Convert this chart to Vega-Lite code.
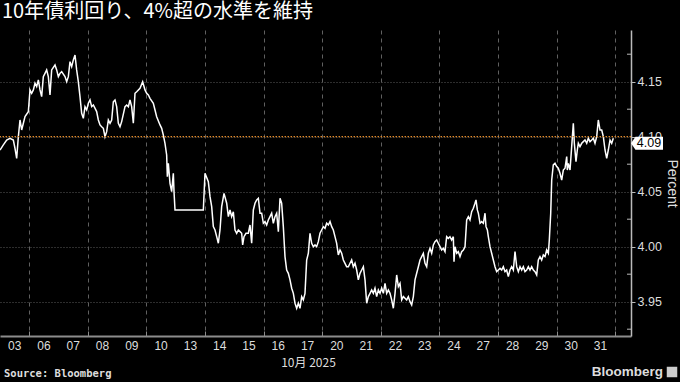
{
  "$schema": "https://vega.github.io/schema/vega-lite/v6.json",
  "width": 631,
  "height": 306,
  "autosize": {"type": "none"},
  "padding": {"left": 0, "top": 30, "right": 49, "bottom": 46},
  "background": "#000000",
  "title": {
    "text": "10年債利回り、4%超の水準を維持",
    "anchor": "start",
    "frame": "group",
    "font": "Noto Sans CJK JP",
    "fontSize": 20,
    "fontWeight": "normal",
    "color": "#ffffff",
    "offset": 8,
    "dx": 2
  },
  "datasets": {
    "yields": [
      {"t":0,"v":4.0879},{"t":0.114,"v":4.0925},{"t":0.228,"v":4.097},{"t":0.341,"v":4.0986},{"t":0.455,"v":4.097},{"t":0.512,"v":4.0894},{"t":0.569,"v":4.0803},{"t":0.626,"v":4.1},{"t":0.683,"v":4.1152},{"t":0.74,"v":4.1061},{"t":0.797,"v":4.1122},{"t":0.854,"v":4.1182},{"t":0.967,"v":4.1227},
      {"t":1.024,"v":4.1425},{"t":1.081,"v":4.1395},{"t":1.138,"v":4.1425},{"t":1.195,"v":4.1486},{"t":1.252,"v":4.1455},{"t":1.309,"v":4.1516},{"t":1.366,"v":4.1425},{"t":1.422,"v":4.1364},{"t":1.479,"v":4.1546},{"t":1.536,"v":4.1576},{"t":1.593,"v":4.1607},{"t":1.65,"v":4.1546},{"t":1.707,"v":4.1379},{"t":1.764,"v":4.1607},{"t":1.878,"v":4.1652},{"t":1.935,"v":4.1607},{"t":1.992,"v":4.1546},
      {"t":2.048,"v":4.1576},{"t":2.105,"v":4.1591},{"t":2.219,"v":4.1546},{"t":2.276,"v":4.15},{"t":2.333,"v":4.1546},{"t":2.39,"v":4.1682},{"t":2.447,"v":4.1637},{"t":2.504,"v":4.1698},{"t":2.561,"v":4.1743},{"t":2.617,"v":4.1607},{"t":2.674,"v":4.15},{"t":2.731,"v":4.1364},{"t":2.788,"v":4.1213},{"t":2.845,"v":4.1167},{"t":2.902,"v":4.1273},{"t":2.959,"v":4.1243},
      {"t":3.016,"v":4.1304},{"t":3.073,"v":4.1334},{"t":3.13,"v":4.1273},{"t":3.187,"v":4.1288},{"t":3.3,"v":4.1228},{"t":3.357,"v":4.1152},{"t":3.414,"v":4.1107},{"t":3.471,"v":4.1091},{"t":3.528,"v":4.1076},{"t":3.585,"v":4.1},{"t":3.642,"v":4.1046},{"t":3.699,"v":4.1152},{"t":3.756,"v":4.1122},{"t":3.813,"v":4.1152},{"t":3.869,"v":4.1318},{"t":3.926,"v":4.1334},{"t":3.983,"v":4.1273},
      {"t":4.04,"v":4.1122},{"t":4.097,"v":4.1091},{"t":4.154,"v":4.1137},{"t":4.268,"v":4.1273},{"t":4.325,"v":4.1288},{"t":4.382,"v":4.1273},{"t":4.438,"v":4.1334},{"t":4.495,"v":4.1273},{"t":4.552,"v":4.1122},{"t":4.609,"v":4.1395},{"t":4.666,"v":4.1409},{"t":4.78,"v":4.144},{"t":4.871,"v":4.15},{"t":4.95,"v":4.1425},
      {"t":5.007,"v":4.1395},{"t":5.064,"v":4.1379},{"t":5.121,"v":4.1349},{"t":5.235,"v":4.1304},{"t":5.292,"v":4.1243},{"t":5.349,"v":4.1182},{"t":5.463,"v":4.1107},{"t":5.52,"v":4.1076},{"t":5.577,"v":4.1015},{"t":5.633,"v":4.094},{"t":5.69,"v":4.0834},{"t":5.713,"v":4.0637},{"t":5.747,"v":4.0758},{"t":5.804,"v":4.0576},{"t":5.861,"v":4.05},{"t":5.918,"v":4.0667},{"t":5.941,"v":4.05},{"t":5.975,"v":4.0334},
      {"t":6.942,"v":4.0334},{"t":6.999,"v":4.0667},{"t":7.112,"v":4.0591},{"t":7.17,"v":4.0455},{"t":7.227,"v":4.0364},{"t":7.283,"v":4.0182},{"t":7.34,"v":4.0152},{"t":7.398,"v":4.0091},{"t":7.454,"v":4.0031},{"t":7.511,"v":4.0152},{"t":7.568,"v":4.0364},{"t":7.648,"v":4.0485},{"t":7.739,"v":4.0395},{"t":7.796,"v":4.0273},{"t":7.853,"v":4.0334},{"t":7.909,"v":4.0273},{"t":7.966,"v":4.0318},
      {"t":8.023,"v":4.0152},{"t":8.08,"v":4.0122},{"t":8.137,"v":4.0152},{"t":8.194,"v":4.0137},{"t":8.251,"v":4.0122},{"t":8.285,"v":4.0016},{"t":8.33,"v":4.0091},{"t":8.399,"v":4.0122},{"t":8.478,"v":4.0122},{"t":8.535,"v":4.0197},{"t":8.592,"v":4.0031},{"t":8.649,"v":4.0334},{"t":8.706,"v":4.0395},{"t":8.763,"v":4.0425},{"t":8.82,"v":4.044},{"t":8.877,"v":4.0304},{"t":8.934,"v":4.0304},{"t":8.991,"v":4.0213},
      {"t":9.047,"v":4.0228},{"t":9.104,"v":4.0197},{"t":9.161,"v":4.0243},{"t":9.218,"v":4.0273},{"t":9.275,"v":4.0304},{"t":9.332,"v":4.0213},{"t":9.389,"v":4.0273},{"t":9.446,"v":4.0304},{"t":9.503,"v":4.0137},{"t":9.56,"v":4.044},{"t":9.616,"v":4.0395},{"t":9.673,"v":4.0182},{"t":9.73,"v":3.991},{"t":9.787,"v":3.9788},{"t":9.844,"v":3.9758},{"t":9.901,"v":3.9698},{"t":9.958,"v":3.9622},
      {"t":10.015,"v":3.9576},{"t":10.072,"v":3.9486},{"t":10.129,"v":3.944},{"t":10.186,"v":3.9486},{"t":10.242,"v":3.944},{"t":10.299,"v":3.9546},{"t":10.356,"v":3.9516},{"t":10.413,"v":3.9576},{"t":10.47,"v":3.9879},{"t":10.527,"v":3.994},{"t":10.584,"v":4.0122},{"t":10.641,"v":4.0031},{"t":10.698,"v":4.0},{"t":10.755,"v":4.0016},{"t":10.811,"v":4.0},{"t":10.868,"v":4.0046},{"t":10.925,"v":4.0122},{"t":10.982,"v":4.0152},
      {"t":11.039,"v":4.0182},{"t":11.096,"v":4.0167},{"t":11.153,"v":4.0213},{"t":11.21,"v":4.0197},{"t":11.267,"v":4.0228},{"t":11.324,"v":4.0182},{"t":11.38,"v":4.0152},{"t":11.437,"v":4.0091},{"t":11.494,"v":4.0031},{"t":11.551,"v":3.9925},{"t":11.608,"v":3.997},{"t":11.665,"v":3.994},{"t":11.722,"v":3.9879},{"t":11.779,"v":3.9849},{"t":11.836,"v":3.9818},{"t":11.893,"v":3.9818},{"t":11.95,"v":3.9849},
      {"t":12.006,"v":3.9879},{"t":12.063,"v":3.9818},{"t":12.12,"v":3.9849},{"t":12.177,"v":3.9788},{"t":12.234,"v":3.9698},{"t":12.291,"v":3.9758},{"t":12.348,"v":3.9788},{"t":12.405,"v":3.9818},{"t":12.462,"v":3.9698},{"t":12.519,"v":3.9486},{"t":12.576,"v":3.9546},{"t":12.633,"v":3.9576},{"t":12.689,"v":3.9607},{"t":12.746,"v":3.9576},{"t":12.803,"v":3.9622},{"t":12.86,"v":3.9546},{"t":12.917,"v":3.9607},{"t":12.974,"v":3.9576},
      {"t":13.031,"v":3.9622},{"t":13.088,"v":3.9576},{"t":13.145,"v":3.9667},{"t":13.202,"v":3.9576},{"t":13.259,"v":3.9607},{"t":13.315,"v":3.9576},{"t":13.372,"v":3.9516},{"t":13.429,"v":3.944},{"t":13.486,"v":3.9576},{"t":13.543,"v":3.9743},{"t":13.6,"v":3.9637},{"t":13.657,"v":3.9667},{"t":13.714,"v":3.9516},{"t":13.771,"v":3.9546},{"t":13.827,"v":3.9531},{"t":13.884,"v":3.9516},{"t":13.941,"v":3.9546},{"t":13.998,"v":3.95},
      {"t":14.055,"v":3.947},{"t":14.112,"v":3.9546},{"t":14.169,"v":3.9698},{"t":14.226,"v":3.9758},{"t":14.283,"v":3.9818},{"t":14.34,"v":3.9879},{"t":14.397,"v":3.991},{"t":14.453,"v":3.994},{"t":14.51,"v":3.9849},{"t":14.567,"v":3.9818},{"t":14.624,"v":3.994},{"t":14.681,"v":3.9985},{"t":14.738,"v":3.994},{"t":14.795,"v":4.0016},{"t":14.851,"v":4.0046},{"t":14.909,"v":4.0061},{"t":14.964,"v":4.0031},
      {"t":15.022,"v":4.0},{"t":15.079,"v":3.997},{"t":15.136,"v":3.9985},{"t":15.193,"v":3.9955},{"t":15.25,"v":4.0091},{"t":15.306,"v":4.0076},{"t":15.363,"v":4.0091},{"t":15.42,"v":4.0061},{"t":15.477,"v":4.0091},{"t":15.5,"v":3.9864},{"t":15.534,"v":4.0},{"t":15.591,"v":3.994},{"t":15.648,"v":3.9955},{"t":15.705,"v":3.991},{"t":15.762,"v":3.9955},{"t":15.819,"v":3.997},{"t":15.876,"v":4.0},{"t":15.933,"v":4.0243},{"t":15.99,"v":4.0273},
      {"t":16.046,"v":4.0243},{"t":16.103,"v":4.0318},{"t":16.16,"v":4.0349},{"t":16.217,"v":4.0395},{"t":16.251,"v":4.0425},{"t":16.297,"v":4.0334},{"t":16.331,"v":4.0304},{"t":16.388,"v":4.0213},{"t":16.445,"v":4.0228},{"t":16.502,"v":4.0213},{"t":16.559,"v":4.0304},{"t":16.593,"v":4.0182},{"t":16.639,"v":4.0152},{"t":16.672,"v":4.0091},{"t":16.729,"v":4.0},{"t":16.786,"v":3.994},{"t":16.843,"v":3.9879},{"t":16.9,"v":3.9818},{"t":16.957,"v":3.9773},
      {"t":17.014,"v":3.9788},{"t":17.071,"v":3.9803},{"t":17.128,"v":3.9788},{"t":17.184,"v":3.9818},{"t":17.241,"v":3.9773},{"t":17.298,"v":3.9788},{"t":17.355,"v":3.9728},{"t":17.412,"v":3.9788},{"t":17.469,"v":3.9818},{"t":17.526,"v":3.9788},{"t":17.583,"v":3.9955},{"t":17.64,"v":3.9818},{"t":17.697,"v":3.9773},{"t":17.754,"v":3.9818},{"t":17.811,"v":3.9788},{"t":17.867,"v":3.9818},{"t":17.924,"v":3.9773},{"t":17.981,"v":3.9788},
      {"t":18.038,"v":3.9818},{"t":18.095,"v":3.9788},{"t":18.152,"v":3.9818},{"t":18.209,"v":3.9788},{"t":18.266,"v":3.9773},{"t":18.323,"v":3.9743},{"t":18.379,"v":3.9879},{"t":18.436,"v":3.991},{"t":18.493,"v":3.9879},{"t":18.55,"v":3.9925},{"t":18.607,"v":3.991},{"t":18.664,"v":3.997},{"t":18.721,"v":3.994},{"t":18.754,"v":4.0061},{"t":18.802,"v":4.0304},{"t":18.836,"v":4.0606},{"t":18.89,"v":4.0743},{"t":18.948,"v":4.0758},
      {"t":19.006,"v":4.0728},{"t":19.061,"v":4.0713},{"t":19.119,"v":4.0667},{"t":19.177,"v":4.0606},{"t":19.232,"v":4.0697},{"t":19.29,"v":4.0713},{"t":19.348,"v":4.0819},{"t":19.369,"v":4.0697},{"t":19.403,"v":4.0758},{"t":19.461,"v":4.0697},{"t":19.518,"v":4.091},{"t":19.574,"v":4.1122},{"t":19.608,"v":4.094},{"t":19.665,"v":4.0773},{"t":19.71,"v":4.0879},{"t":19.745,"v":4.094},{"t":19.802,"v":4.091},{"t":19.86,"v":4.094},{"t":19.915,"v":4.0955},{"t":19.973,"v":4.097},
      {"t":20.031,"v":4.094},{"t":20.086,"v":4.0986},{"t":20.143,"v":4.0955},{"t":20.202,"v":4.097},{"t":20.256,"v":4.0986},{"t":20.314,"v":4.094},{"t":20.372,"v":4.1},{"t":20.427,"v":4.1152},{"t":20.485,"v":4.1061},{"t":20.543,"v":4.1061},{"t":20.598,"v":4.1},{"t":20.656,"v":4.0879},{"t":20.713,"v":4.0803},{"t":20.768,"v":4.0879},{"t":20.826,"v":4.097},{"t":20.884,"v":4.094},{"t":20.939,"v":4.0986}
    ],
    "days": [
      {"c":0.5,"lab":"03"},{"c":1.5,"lab":"06"},{"c":2.5,"lab":"07"},{"c":3.5,"lab":"08"},{"c":4.5,"lab":"09"},{"c":5.5,"lab":"10"},{"c":6.5,"lab":"13"},{"c":7.5,"lab":"14"},{"c":8.5,"lab":"15"},{"c":9.5,"lab":"16"},{"c":10.5,"lab":"17"},
      {"c":11.5,"lab":"20"},{"c":12.5,"lab":"21"},{"c":13.5,"lab":"22"},{"c":14.5,"lab":"23"},{"c":15.5,"lab":"24"},{"c":16.5,"lab":"27"},{"c":17.5,"lab":"28"},{"c":18.5,"lab":"29"},{"c":19.5,"lab":"30"},{"c":20.5,"lab":"31"}
    ],
    "last": [{"t": 21.543, "v": 4.094, "label": "4.09"}],
    "minor": [{"m": 3.925}, {"m": 3.975}, {"m": 4.025}, {"m": 4.075}, {"m": 4.125}, {"m": 4.175}],
    "notes": [{"source": "Source: Bloomberg", "brand": "Bloomberg", "ref": 4.1}]
  },
  "layer": [
    {
      "data": {"name": "yields"},
      "mark": {"type": "line", "color": "#ffffff", "strokeWidth": 1.5, "interpolate": "linear"},
      "encoding": {
        "x": {
          "field": "t",
          "type": "quantitative",
          "scale": {"domain": [0, 21.543], "nice": false, "zero": false},
          "axis": {
            "title": "10月 2025",
            "values": [1,2,3,4,5,6,7,8,9,10,11,12,13,14,15,16,17,18,19,20,21],
            "labels": false,
            "tickSize": -5,
            "tickColor": "#8c8c8c",
            "tickWidth": 1,
            "domainColor": "#8c8c8c",
            "domainWidth": 2,
            "grid": true,
            "gridColor": "#606060",
            "gridDash": [4, 4],
            "gridWidth": 1,
            "titleColor": "#dddddd",
            "titleFont": "Noto Sans CJK JP",
            "titleFontSize": 12,
            "titleFontWeight": "normal",
            "titlePadding": 21,
            "titleX": 308
          }
        },
        "y": {
          "field": "v",
          "type": "quantitative",
          "scale": {"domain": [3.9188, 4.197], "nice": false, "zero": false},
          "axis": {
            "orient": "right",
            "title": "Percent",
            "values": [3.95, 4.0, 4.05, 4.1, 4.15],
            "format": ".2f",
            "labelColor": "#dddddd",
            "labelFontSize": 12.5,
            "labelFont": "Liberation Sans",
            "labelPadding": 2,
            "labelOverlap": false,
            "labelFlush": false,
            "tickSize": 4,
            "tickColor": "#bbbbbb",
            "domainColor": "#bbbbbb",
            "domainWidth": 1.5,
            "grid": true,
            "gridColor": "#5a5a5a",
            "gridDash": [1, 2],
            "gridWidth": 1,
            "titleColor": "#dddddd",
            "titleFont": "Liberation Sans",
            "titleFontSize": 14,
            "titleFontWeight": "normal",
            "titleAngle": 90,
            "titlePadding": 3
          }
        }
      }
    },
    {
      "data": {"name": "notes"},
      "mark": {"type": "rule", "color": "#e0892a", "strokeWidth": 1.3, "strokeDash": [1.5, 1.5]},
      "encoding": {"y": {"field": "ref", "type": "quantitative"}}
    },
    {
      "data": {"name": "days"},
      "mark": {"type": "text", "align": "center", "baseline": "middle", "dy": 10, "font": "Liberation Sans", "fontSize": 12, "color": "#dddddd"},
      "encoding": {
        "x": {"field": "c", "type": "quantitative"},
        "y": {"datum": 3.9188, "type": "quantitative"},
        "text": {"field": "lab"}
      }
    },
    {
      "data": {"name": "minor"},
      "mark": {"type": "tick", "orient": "horizontal", "color": "#bbbbbb", "size": 4, "thickness": 1, "xOffset": -2, "opacity": 1},
      "encoding": {
        "x": {"datum": 21.543, "type": "quantitative"},
        "y": {"field": "m", "type": "quantitative"}
      }
    },
    {
      "data": {"name": "last"},
      "mark": {"type": "point", "shape": "M-1,0L-0.72,-0.406L1,-0.406L1,0.406L-0.72,0.406Z", "size": 1024, "filled": true, "color": "#ffffff", "opacity": 1, "xOffset": 16},
      "encoding": {
        "x": {"field": "t", "type": "quantitative"},
        "y": {"field": "v", "type": "quantitative"}
      }
    },
    {
      "data": {"name": "last"},
      "mark": {"type": "text", "color": "#000000", "fontSize": 12.5, "font": "Liberation Sans", "align": "center", "baseline": "middle", "dx": 18},
      "encoding": {
        "x": {"field": "t", "type": "quantitative"},
        "y": {"field": "v", "type": "quantitative"},
        "text": {"field": "label"}
      }
    },
    {
      "data": {"name": "notes"},
      "mark": {"type": "text", "align": "left", "baseline": "middle", "dx": 4, "dy": 38, "font": "DejaVu Sans Mono", "fontWeight": "bold", "fontSize": 10.5, "color": "#dddddd"},
      "encoding": {
        "x": {"datum": 0, "type": "quantitative"},
        "y": {"datum": 3.9188, "type": "quantitative"},
        "text": {"field": "source"}
      }
    },
    {
      "data": {"name": "notes"},
      "mark": {"type": "text", "align": "right", "baseline": "middle", "dx": 32, "dy": 36, "font": "Liberation Sans", "fontWeight": "bold", "fontSize": 13.5, "color": "#dddddd"},
      "encoding": {
        "x": {"datum": 21.543, "type": "quantitative"},
        "y": {"datum": 3.9188, "type": "quantitative"},
        "text": {"field": "brand"}
      }
    },
    {
      "data": {"name": "notes"},
      "mark": {"type": "point", "shape": "square", "size": 110, "filled": true, "color": "#cccccc", "opacity": 1, "xOffset": 41, "yOffset": 36},
      "encoding": {
        "x": {"datum": 21.543, "type": "quantitative"},
        "y": {"datum": 3.9188, "type": "quantitative"}
      }
    }
  ],
  "config": {
    "view": {"stroke": null},
    "font": "Liberation Sans",
    "axis": {"labelOverlap": false, "labelFlush": false}
  }
}
